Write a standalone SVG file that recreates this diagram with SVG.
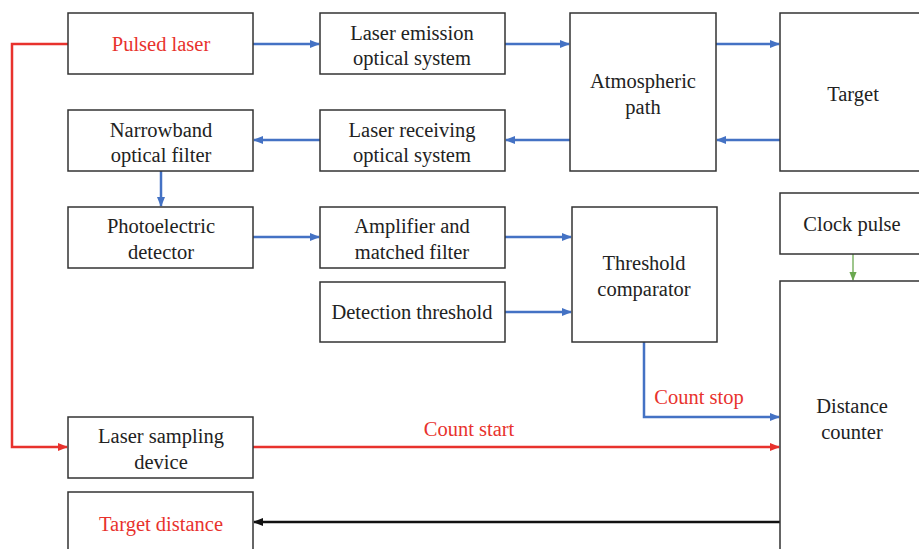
<svg xmlns="http://www.w3.org/2000/svg" width="919" height="549" viewBox="0 0 919 549">
  <style>
    svg text, g text, text { font-family: 'Liberation Serif', 'Times New Roman', serif !important; font-size: 20.5px; text-anchor: middle; }
    .lbl { fill: #222; }
    .red { fill: #e8322d; }
    .box { fill: #fff; stroke: #333; stroke-width: 1.5; }
  </style>
  <defs>
    <marker id="ab" viewBox="0 0 10 10" refX="9" refY="5" markerWidth="4" markerHeight="4" orient="auto" markerUnits="strokeWidth">
      <path d="M0,1 L10,5 L0,9 z" fill="#4472c4"/>
    </marker>
    <marker id="ar" viewBox="0 0 10 10" refX="9" refY="5" markerWidth="4" markerHeight="4" orient="auto" markerUnits="strokeWidth">
      <path d="M0,1 L10,5 L0,9 z" fill="#e8322d"/>
    </marker>
    <marker id="ak" viewBox="0 0 10 10" refX="9" refY="5" markerWidth="4" markerHeight="4" orient="auto" markerUnits="strokeWidth">
      <path d="M0,1 L10,5 L0,9 z" fill="#111"/>
    </marker>
    <marker id="ag" viewBox="0 0 10 10" refX="9" refY="5" markerWidth="7" markerHeight="7" orient="auto" markerUnits="strokeWidth">
      <path d="M0,1 L10,5 L0,9 z" fill="#6aa84f"/>
    </marker>
  </defs>
  <rect x="0" y="0" width="919" height="549" fill="#fff"/>

  <!-- connectors -->
  <g id="connectors">
    <g stroke="#4472c4" stroke-width="2.5" fill="none" marker-end="url(#ab)">
      <line x1="253" y1="44" x2="319" y2="44"/>
      <line x1="505" y1="44" x2="569" y2="44"/>
      <line x1="716" y1="44" x2="779" y2="44"/>
      <line x1="780" y1="140" x2="717" y2="140"/>
      <line x1="570" y1="140" x2="506" y2="140"/>
      <line x1="320" y1="140" x2="254" y2="140"/>
      <line x1="161" y1="171" x2="161" y2="206"/>
      <line x1="253" y1="237" x2="319" y2="237"/>
      <line x1="505" y1="237" x2="571" y2="237"/>
      <line x1="505" y1="312" x2="571" y2="312"/>
      <polyline points="644,342 644,417 779,417"/>
    </g>
    <g stroke="#e8322d" stroke-width="2.5" fill="none" marker-end="url(#ar)">
      <polyline points="68,44 12,44 12,447 67,447"/>
      <line x1="253" y1="447" x2="779" y2="447"/>
    </g>
    <line x1="780" y1="522" x2="254" y2="522" stroke="#111" stroke-width="2.5" marker-end="url(#ak)"/>
    <line x1="853" y1="254" x2="853" y2="280" stroke="#6aa84f" stroke-width="1.3" marker-end="url(#ag)"/>
    <text class="red" font-family="Liberation Serif" x="469" y="436">Count start</text>
    <text class="red" font-family="Liberation Serif" x="699" y="404">Count stop</text>
  </g>

  <!-- blocks -->
  <g id="pulsed-laser"><rect class="box" x="68" y="13" width="185" height="61"/><text class="red" font-family="Liberation Serif" x="161" y="51">Pulsed laser</text></g>
  <g id="laser-emission"><rect class="box" x="320" y="13" width="185" height="61"/><text class="lbl" font-family="Liberation Serif" x="412" y="40">Laser emission</text><text class="lbl" font-family="Liberation Serif" x="412" y="65">optical system</text></g>
  <g id="atmospheric-path"><rect class="box" x="570" y="13" width="146" height="158"/><text class="lbl" font-family="Liberation Serif" x="643" y="88">Atmospheric</text><text class="lbl" font-family="Liberation Serif" x="643" y="114">path</text></g>
  <g id="target"><rect class="box" x="780" y="13" width="145" height="158"/><text class="lbl" font-family="Liberation Serif" x="853" y="101">Target</text></g>
  <g id="narrowband-filter"><rect class="box" x="68" y="110" width="185" height="61"/><text class="lbl" font-family="Liberation Serif" x="161" y="137">Narrowband</text><text class="lbl" font-family="Liberation Serif" x="161" y="162">optical filter</text></g>
  <g id="laser-receiving"><rect class="box" x="320" y="110" width="185" height="61"/><text class="lbl" font-family="Liberation Serif" x="412" y="137">Laser receiving</text><text class="lbl" font-family="Liberation Serif" x="412" y="162">optical system</text></g>
  <g id="photoelectric-detector"><rect class="box" x="68" y="207" width="185" height="61"/><text class="lbl" font-family="Liberation Serif" x="161" y="233">Photoelectric</text><text class="lbl" font-family="Liberation Serif" x="161" y="259">detector</text></g>
  <g id="amplifier"><rect class="box" x="320" y="207" width="185" height="61"/><text class="lbl" font-family="Liberation Serif" x="412" y="233">Amplifier and</text><text class="lbl" font-family="Liberation Serif" x="412" y="259">matched filter</text></g>
  <g id="detection-threshold"><rect class="box" x="320" y="282" width="185" height="60"/><text class="lbl" font-family="Liberation Serif" x="412" y="319">Detection threshold</text></g>
  <g id="threshold-comparator"><rect class="box" x="572" y="207" width="145" height="135"/><text class="lbl" font-family="Liberation Serif" x="644" y="270">Threshold</text><text class="lbl" font-family="Liberation Serif" x="644" y="296">comparator</text></g>
  <g id="clock-pulse"><rect class="box" x="780" y="193" width="145" height="61"/><text class="lbl" font-family="Liberation Serif" x="852" y="231">Clock pulse</text></g>
  <g id="distance-counter"><rect class="box" x="780" y="281" width="145" height="280"/><text class="lbl" font-family="Liberation Serif" x="852" y="413">Distance</text><text class="lbl" font-family="Liberation Serif" x="852" y="439">counter</text></g>
  <g id="laser-sampling"><rect class="box" x="68" y="417" width="185" height="61"/><text class="lbl" font-family="Liberation Serif" x="161" y="443">Laser sampling</text><text class="lbl" font-family="Liberation Serif" x="161" y="469">device</text></g>
  <g id="target-distance"><rect class="box" x="68" y="492" width="185" height="70"/><text class="red" font-family="Liberation Serif" x="161" y="531">Target distance</text></g>
</svg>
